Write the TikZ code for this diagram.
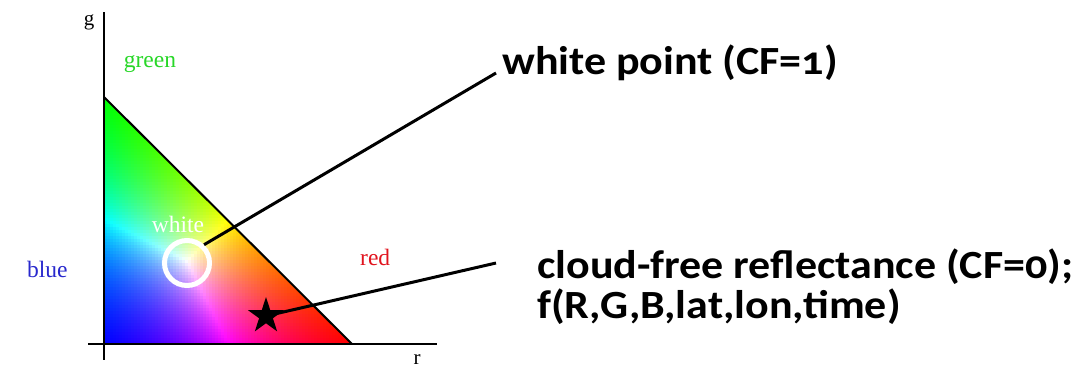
\documentclass[tikz,border=0pt]{standalone}
\usepackage{fontspec}
\setmainfont{Liberation Serif}
\newfontfamily\notefont[Numbers=OldStyle]{Carlito}
\usetikzlibrary{shapes.geometric}
\definecolor{lblgreen}{RGB}{40,215,40}
\definecolor{lblblue}{RGB}{40,40,205}
\definecolor{lblred}{RGB}{225,20,30}
\tikzset{
  axisline/.style={line width=2pt, black},
  pointer/.style={line width=3pt, black},
  serifl/.style={font=\fontsize{23.5}{26}\selectfont, inner sep=0pt},
  axisl/.style={font=\fontsize{21}{24}\selectfont, inner sep=0pt},
  note/.style={font=\notefont\bfseries\fontsize{40}{44}\selectfont, xscale=1.1, inner sep=0pt, anchor=base west},
}
\begin{document}
\begin{tikzpicture}[x=1pt,y=-1pt]
\useasboundingbox (0,0) rectangle (1081,368);

% rg chromaticity triangle, filled cell by cell
\begin{scope}
  \clip (104,97) -- (104,344) -- (352,344) -- cycle;
  \foreach \i in {0,...,82}{
    \foreach \j in {0,...,82}{
      \pgfmathsetmacro\uu{(\i+0.5)/83}
      \pgfmathsetmacro\vv{(\j+0.5)/83}
      \pgfmathtruncatemacro\keep{(\uu+\vv<1.04)?1:0}
      \ifnum\keep=1
        \pgfmathsetmacro\bl{max(1-\uu-\vv,0)}
        \pgfmathsetmacro\mx{max(\uu,\vv,\bl)}
        \pgfmathsetmacro\cR{\uu/\mx}
        \pgfmathsetmacro\cG{\vv/\mx}
        \pgfmathsetmacro\cB{\bl/\mx}
        \definecolor{cellc}{rgb}{\cR,\cG,\cB}
        \fill[cellc] ({104+\i*3},{344-\j*3}) rectangle ++(3.6,-3.6);
      \fi
    }
  }
\end{scope}

% axes and hypotenuse
\draw[axisline] (104,12) -- (104,360);
\draw[axisline] (88,344) -- (437,344);
\draw[line width=2pt] (104,97) -- (352,344);

% axis and corner labels
\node[axisl, anchor=base] (glab) at (89,25) {g};
\node[axisl, anchor=base] (rlab) at (417,364) {r};
\node[serifl, anchor=base, text=lblgreen] (greenlab) at (150,67) {green};
\node[serifl, anchor=base west, text=lblblue] (bluelab) at (27,277) {blue};
\node[serifl, anchor=base west, text=lblred] (redlab) at (360,265) {red};
\node[serifl, anchor=base, text=white] (whitelab) at (178,232) {white};

% markers
\node[circle, draw=white, line width=5pt, minimum size=45pt, inner sep=0pt] (wcirc) at (187,263) {};
\node[star, star points=5, star point ratio=2.618, fill=black, minimum size=38pt, inner sep=0pt] (cfstar) at (266,316) {};

% notes
\node[note] (wpnote) at (502,74) {white point (CF=1)};
\node[note] (cfnote) at (537,278) {cloud-free reflectance (CF=0);};
\node[note] (fnote) at (537,318) {f(R,G,B,lat,lon,time)};

\coordinate (wpend) at (496,73);
\coordinate (cfend) at (496,263);
\draw[pointer] (wcirc.47) -- (wpend);
\draw[pointer] (cfstar.center) -- (cfend);
\end{tikzpicture}
\end{document}
